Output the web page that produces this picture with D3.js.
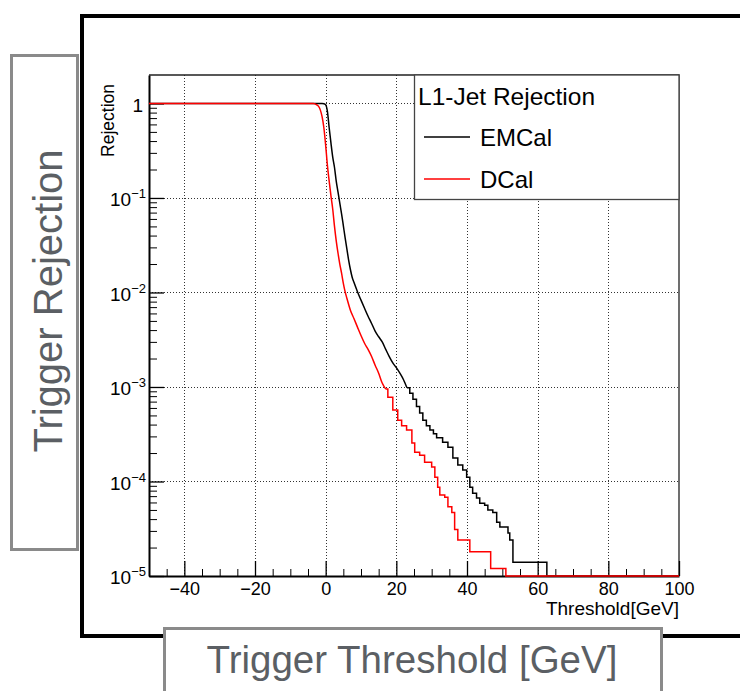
<!DOCTYPE html>
<html>
<head>
<meta charset="utf-8">
<script src="https://cdn.jsdelivr.net/npm/d3@7"></script>
<style>
  body { margin: 0; background: #fff; }
  svg { display: block; font-family: "Liberation Sans", Arial, sans-serif; }
</style>
</head>
<body>
<svg id="chart" width="740" height="691"></svg>
<script>
// EMCal trigger rejection (threshold in GeV, value where each step starts)
let emcalThreshold = [-50, -1, -0.5, 0, 0.5, 1, 1.5, 2, 2.5, 3, 3.5, 4, 4.5, 5, 5.5, 6, 6.5, 7, 7.5, 8,
  9, 10, 11, 12, 13, 14, 15, 16, 17, 18, 19, 20, 21, 22, 23,
  23.8, 24.7, 25.7, 26.6, 27.5, 28.5, 29.5, 30.5, 31.4, 33.1, 34.6, 36, 37.4, 38.8, 39.9,
  40.8, 41.6, 42.7, 43.6, 45, 45.9, 47.3, 48.4, 49.3, 51.6, 52.1, 53, 62.6, 100]
let emcalRejection = [1, 1, 0.995, 0.97, 0.82, 0.55, 0.38, 0.27, 0.21, 0.15, 0.115, 0.088, 0.068, 0.051, 0.038, 0.029, 0.022, 0.0175, 0.0145, 0.0128,
  0.0102, 0.0083, 0.0068, 0.0056, 0.0047, 0.0039, 0.0034, 0.0030, 0.0025, 0.0021, 0.0018, 0.0016, 0.0014, 0.0012, 0.00098,
  0.00086, 0.00074, 0.00062, 0.00053, 0.000445, 0.00039, 0.00035, 0.00032, 0.00029, 0.00026, 0.00023, 0.000177, 0.000149, 0.000132, 0.000111,
  0.000087, 0.000075, 0.000067, 0.000059, 0.000056, 0.00005, 0.000047, 0.000037, 0.000033, 0.0000285, 0.000024, 0.000014, 0, 0]

// DCal trigger rejection
let dcalThreshold = [-50, -3.5, -3, -2.5, -2, -1.5, -1, -0.5, 0,
  0.5, 1, 1.5, 2, 2.5, 3, 3.5, 4, 4.5, 5, 5.5, 6,
  7, 8, 9, 10, 11, 12, 13, 14, 15, 16, 17,
  17.6, 19, 20.4, 21.5, 22.9, 24.4, 25.2, 26.6, 28, 30,
  30.9, 31.7, 32.3, 33.7, 34.6, 35.7, 36.5, 37.4, 40.8, 46.7, 51, 100]
let dcalRejection = [1, 1, 0.99, 0.965, 0.93, 0.85, 0.72, 0.55, 0.36,
  0.22, 0.15, 0.105, 0.076, 0.05, 0.035, 0.026, 0.02, 0.016, 0.0125, 0.0102, 0.0087,
  0.0065, 0.0053, 0.0043, 0.0035, 0.0029, 0.0025, 0.0021, 0.0017, 0.0014, 0.0011, 0.00095,
  0.00078, 0.00057, 0.000445, 0.00039, 0.00035, 0.000255, 0.000204, 0.00019, 0.00016, 0.000142,
  0.000111, 0.000087, 0.000072, 0.000068, 0.000054, 0.000047, 0.000031, 0.000024, 0.000018, 0.000012, 0, 0]

// below these thresholds the fine binning looks like a smooth line, above it the steps show
let smoothUntil = [23, 17]

let seriesNames = ['EMCal', 'DCal']
let seriesColors = ['#000000', '#ff0000']

let xMajorTicks = [-40, -20, 0, 20, 40, 60, 80, 100]
let xMinorTicks = [-45, -35, -30, -25, -15, -10, -5, 5, 10, 15, 25, 30, 35, 45, 50, 55, 65, 70, 75, 85, 90, 95]
let yMajorTicks = [1, 1e-1, 1e-2, 1e-3, 1e-4, 1e-5]
let yTickExponents = ['', '−1', '−2', '−3', '−4', '−5']

let frame = { left: 149, right: 679, top: 75, bottom: 576 }
let yMin = 1e-5

let svg = d3.select('#chart')

// outer slide decoration: black frame and grey caption boxes
svg.append('rect')
    .attr('x', 82).attr('y', 16)
    .attr('width', 720).attr('height', 620)
    .attr('fill', 'none').attr('stroke', '#000').attr('stroke-width', 4)

svg.append('rect')
    .attr('x', 11.5).attr('y', 55.5)
    .attr('width', 66).attr('height', 494)
    .attr('fill', '#fff').attr('stroke', '#8a8a8a').attr('stroke-width', 3)

svg.append('text')
    .attr('transform', 'translate(62,301) rotate(-90)')
    .attr('text-anchor', 'middle')
    .attr('font-size', 40)
    .attr('fill', '#5b5f64')
    .text('Trigger Rejection')

svg.append('rect')
    .attr('x', 164.5).attr('y', 628.5)
    .attr('width', 497).attr('height', 80)
    .attr('fill', '#fff').attr('stroke', '#8a8a8a').attr('stroke-width', 3)

svg.append('text')
    .attr('x', 412).attr('y', 673)
    .attr('text-anchor', 'middle')
    .attr('font-size', 38.5)
    .attr('fill', '#5b5f64')
    .text('Trigger Threshold [GeV]')

// scales
let x = d3.scaleLinear().domain([-50, 100]).range([frame.left, frame.right])
let y = d3.scaleLog().domain([yMin, 2]).range([frame.bottom, frame.top])

// grid
let grid = svg.append('g').attr('stroke', '#333').attr('stroke-width', 1).attr('stroke-dasharray', '1,2')
grid.selectAll('.vgrid')
    .data(xMajorTicks.filter(d => d < 100))
    .enter().append('line')
    .attr('x1', d => Math.round(x(d)) + 0.5).attr('x2', d => Math.round(x(d)) + 0.5)
    .attr('y1', frame.top).attr('y2', frame.bottom)
grid.selectAll('.hgrid')
    .data(yMajorTicks.filter(d => d > yMin))
    .enter().append('line')
    .attr('x1', frame.left).attr('x2', frame.right)
    .attr('y1', d => Math.round(y(d)) + 0.5).attr('y2', d => Math.round(y(d)) + 0.5)

// top and right frame
svg.append('path')
    .attr('d', `M${frame.left},${frame.top}H${frame.right}V${frame.bottom}`)
    .attr('fill', 'none').attr('stroke', '#222').attr('stroke-width', 1.3)

// x axis
let xAxisMinor = svg.append('g')
    .attr('transform', 'translate(0,' + frame.bottom + ')')
    .call(d3.axisBottom(x).tickValues(xMinorTicks).tickSize(-7).tickSizeOuter(0).tickFormat(''))
xAxisMinor.select('.domain').remove()

let xAxis = svg.append('g')
    .attr('transform', 'translate(0,' + frame.bottom + ')')
    .call(d3.axisBottom(x).tickValues(xMajorTicks).tickSize(-15).tickSizeOuter(0).tickPadding(6))
xAxis.attr('font-size', 18).attr('font-family', null)
xAxis.select('.domain').attr('stroke-width', 2)
xAxis.selectAll('.tick line').attr('stroke-width', 1.3)
xAxis.selectAll('.tick text').attr('fill', '#000')

// y axis
let yMinor = []
yMajorTicks.slice(0, -1).forEach(top => {
  d3.range(2, 10).forEach(k => yMinor.push(top / 10 * k))
})

let yAxisMinor = svg.append('g')
    .attr('transform', 'translate(' + frame.left + ',0)')
    .call(d3.axisLeft(y).tickValues(yMinor).tickSize(-8).tickSizeOuter(0).tickFormat(''))
yAxisMinor.select('.domain').remove()

let yAxis = svg.append('g')
    .attr('transform', 'translate(' + frame.left + ',0)')
    .call(d3.axisLeft(y).tickValues(yMajorTicks).tickSize(-15).tickSizeOuter(0).tickPadding(3).tickFormat(''))
yAxis.attr('font-size', 19).attr('font-family', null)
yAxis.select('.domain').attr('stroke-width', 2)
yAxis.selectAll('.tick line').attr('stroke-width', 1.3)

yAxis.selectAll('.tick text').each(function (d, i) {
  let t = d3.select(this).attr('fill', '#000').attr('dy', '0.42em')
  if (yTickExponents[i] === '') {
    t.attr('x', -6).text('1')
    return
  }
  t.append('tspan').text('10')
  t.append('tspan')
      .attr('font-size', 13)
      .attr('dy', '-0.62em')
      .text(yTickExponents[i])
})

// curves: smooth head, stepped tail; zero bins sit on the bottom edge
let smoothLine = d3.line()
    .x(d => x(d[0]))
    .y(d => y(Math.max(d[1], yMin)))
    .curve(d3.curveMonotoneX)

let stepLine = d3.line()
    .x(d => x(d[0]))
    .y(d => y(Math.max(d[1], yMin)))
    .curve(d3.curveStepAfter)

let series = [
  d3.zip(emcalThreshold, emcalRejection),
  d3.zip(dcalThreshold, dcalRejection)
]

let curves = svg.selectAll('.curve')
    .data(series)
    .enter().append('g')
    .attr('class', 'curve')
    .attr('fill', 'none')
    .attr('stroke', (d, i) => seriesColors[i])
    .attr('stroke-width', 1.5)

curves.append('path')
    .attr('d', (d, i) => smoothLine(d.filter(p => p[0] <= smoothUntil[i])))
curves.append('path')
    .attr('d', (d, i) => stepLine(d.filter(p => p[0] >= smoothUntil[i])))

// axis titles
svg.append('text')
    .attr('x', frame.right).attr('y', 615)
    .attr('text-anchor', 'end')
    .attr('font-size', 19)
    .text('Threshold[GeV]')

svg.append('text')
    .attr('transform', 'translate(114,84) rotate(-90)')
    .attr('text-anchor', 'end')
    .attr('font-size', 17.5)
    .text('Rejection')

// legend
let legend = svg.append('g')
legend.append('rect')
    .attr('x', 414.5).attr('y', frame.top)
    .attr('width', frame.right - 414.5).attr('height', 124.5)
    .attr('fill', '#fff').attr('stroke', '#444').attr('stroke-width', 1.3)

legend.append('text')
    .attr('x', 418).attr('y', 105)
    .attr('font-size', 24.5)
    .text('L1-Jet Rejection')

let entries = legend.selectAll('.entry')
    .data(seriesNames)
    .enter().append('g')
    .attr('transform', (d, i) => 'translate(0,' + (137 + i * 42) + ')')

entries.append('line')
    .attr('x1', 424).attr('x2', 470)
    .attr('stroke', (d, i) => seriesColors[i])
    .attr('stroke-width', 1.3)

entries.append('text')
    .attr('x', 480).attr('y', 9)
    .attr('font-size', 24)
    .text(d => d)
</script>
</body>
</html>
